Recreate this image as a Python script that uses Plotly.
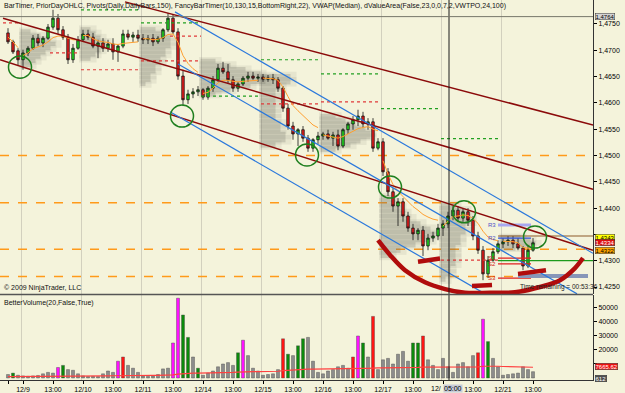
import plotly.graph_objects as go

# ---------------- data ----------------
opens = [1.4733, 1.4716, 1.4699, 1.4682, 1.4695, 1.4704, 1.4723, 1.4714, 1.4723, 1.4744, 1.4761, 1.4739, 1.4725, 1.4682, 1.4704,
         1.4720, 1.4731, 1.4725, 1.4708, 1.4714, 1.4704, 1.4712, 1.4697, 1.4708, 1.4731, 1.4725, 1.4729,
         1.4723, 1.4720, 1.4723, 1.4716, 1.4723, 1.4739, 1.4761, 1.4735, 1.4651, 1.4606, 1.4617, 1.4621,
         1.4625, 1.4611, 1.4628, 1.4644, 1.4666, 1.4659, 1.4644, 1.4628, 1.4636, 1.4647, 1.4651, 1.4647,
         1.4649, 1.4645, 1.4647, 1.4644, 1.4628, 1.4590, 1.4556, 1.4541, 1.4549, 1.4533, 1.4514, 1.4530,
         1.4537, 1.4541, 1.4533, 1.4539, 1.4518, 1.4549, 1.4560, 1.4568, 1.4575, 1.4560, 1.4564, 1.4514,
         1.4526, 1.4469, 1.4431, 1.4404, 1.4412, 1.4385, 1.4362, 1.4351, 1.4358, 1.4328, 1.4343, 1.4347,
         1.4362, 1.4370, 1.4385, 1.4396, 1.4381, 1.4393, 1.4377, 1.4347, 1.4320, 1.4275, 1.4301, 1.4317,
         1.4332, 1.4336, 1.4339, 1.4332, 1.4324, 1.4290, 1.4320]
highs = [1.4742, 1.4720, 1.4704, 1.4701, 1.4708, 1.4729, 1.4731, 1.4727, 1.4750, 1.4777, 1.4769, 1.4746, 1.4731, 1.4712, 1.4727,
         1.4739, 1.4739, 1.4733, 1.4720, 1.4723, 1.4720, 1.4723, 1.4712, 1.4739, 1.4739, 1.4735, 1.4739,
         1.4731, 1.4729, 1.4731, 1.4727, 1.4742, 1.4771, 1.4769, 1.4742, 1.4663, 1.4625, 1.4628, 1.4632,
         1.4628, 1.4632, 1.4651, 1.4674, 1.4678, 1.4674, 1.4651, 1.4640, 1.4651, 1.4659, 1.4659, 1.4655,
         1.4655, 1.4653, 1.4655, 1.4649, 1.4632, 1.4598, 1.4564, 1.4552, 1.4556, 1.4539, 1.4533, 1.4545,
         1.4545, 1.4549, 1.4545, 1.4549, 1.4552, 1.4564, 1.4575, 1.4587, 1.4583, 1.4571, 1.4571, 1.4533,
         1.4533, 1.4476, 1.4438, 1.4419, 1.4419, 1.4393, 1.4370, 1.4362, 1.4366, 1.4351, 1.4355, 1.4370,
         1.4377, 1.4393, 1.4404, 1.4404, 1.4400, 1.4400, 1.4385, 1.4355, 1.4328, 1.4309, 1.4324, 1.4339,
         1.4343, 1.4347, 1.4347, 1.4343, 1.4328, 1.4328, 1.4343]
lows = [1.4712, 1.4693, 1.4670, 1.4663, 1.4689, 1.4701, 1.4708, 1.4706, 1.4720, 1.4739, 1.4731, 1.4720, 1.4674, 1.4676, 1.4701,
        1.4716, 1.4720, 1.4704, 1.4685, 1.4697, 1.4697, 1.4682, 1.4678, 1.4704, 1.4720, 1.4716, 1.4716,
        1.4712, 1.4712, 1.4708, 1.4712, 1.4716, 1.4735, 1.4731, 1.4644, 1.4594, 1.4598, 1.4609, 1.4613,
        1.4606, 1.4606, 1.4621, 1.4640, 1.4655, 1.4636, 1.4621, 1.4621, 1.4632, 1.4640, 1.4644, 1.4640,
        1.4640, 1.4640, 1.4636, 1.4621, 1.4583, 1.4549, 1.4530, 1.4518, 1.4526, 1.4507, 1.4507, 1.4522,
        1.4530, 1.4530, 1.4518, 1.4510, 1.4514, 1.4541, 1.4549, 1.4556, 1.4552, 1.4549, 1.4507, 1.4510,
        1.4461, 1.4423, 1.4393, 1.4366, 1.4374, 1.4355, 1.4339, 1.4339, 1.4309, 1.4320, 1.4336, 1.4339,
        1.4347, 1.4362, 1.4377, 1.4374, 1.4374, 1.4366, 1.4339, 1.4313, 1.4263, 1.4267, 1.4298, 1.4313,
        1.4324, 1.4328, 1.4324, 1.4320, 1.4282, 1.4286, 1.4317]
closes = [1.4716, 1.4697, 1.4682, 1.4695, 1.4704, 1.4723, 1.4714, 1.4723, 1.4744, 1.4761, 1.4739, 1.4725, 1.4682, 1.4704, 1.4720,
          1.4731, 1.4725, 1.4708, 1.4714, 1.4704, 1.4712, 1.4697, 1.4708, 1.4731, 1.4725, 1.4729, 1.4723,
          1.4720, 1.4723, 1.4716, 1.4723, 1.4739, 1.4761, 1.4735, 1.4651, 1.4606, 1.4617, 1.4621, 1.4625,
          1.4611, 1.4628, 1.4644, 1.4666, 1.4659, 1.4644, 1.4628, 1.4636, 1.4647, 1.4651, 1.4647, 1.4649,
          1.4645, 1.4647, 1.4644, 1.4628, 1.4590, 1.4556, 1.4541, 1.4549, 1.4533, 1.4514, 1.4530, 1.4537,
          1.4541, 1.4533, 1.4539, 1.4518, 1.4549, 1.4560, 1.4568, 1.4575, 1.4560, 1.4564, 1.4514, 1.4526,
          1.4469, 1.4431, 1.4404, 1.4412, 1.4385, 1.4362, 1.4351, 1.4358, 1.4328, 1.4343, 1.4347, 1.4362,
          1.4370, 1.4385, 1.4396, 1.4381, 1.4393, 1.4377, 1.4347, 1.4320, 1.4275, 1.4301, 1.4317, 1.4332,
          1.4336, 1.4339, 1.4332, 1.4324, 1.4290, 1.4320, 1.4334]
vwap = [1.4725, 1.4716, 1.4705,
        1.4690, 1.4695, 1.4703, 1.4707, 1.4710, 1.4716, 1.4724, 1.4727, 1.4727, 1.4723, 1.4720, 1.4720,
        1.4728, 1.4728, 1.4722, 1.4718, 1.4716, 1.4715, 1.4712, 1.4711, 1.4713, 1.4714, 1.4715, 1.4716,
        1.4722, 1.4722, 1.4720, 1.4721, 1.4724, 1.4730, 1.4731, 1.4715, 1.4690, 1.4675, 1.4665, 1.4658,
        1.4618, 1.4620, 1.4628, 1.4638, 1.4643, 1.4643, 1.4641, 1.4640, 1.4641, 1.4642, 1.4643, 1.4643,
        1.4647, 1.4647, 1.4646, 1.4643, 1.4630, 1.4612, 1.4595, 1.4585, 1.4576, 1.4566, 1.4558, 1.4553,
        1.4539, 1.4537, 1.4536, 1.4533, 1.4536, 1.4541, 1.4546, 1.4551, 1.4553, 1.4555, 1.4550, 1.4547,
        1.4490, 1.4465, 1.4445, 1.4432, 1.4422, 1.4412, 1.4403, 1.4396, 1.4388, 1.4383, 1.4379, 1.4377,
        1.4366, 1.4375, 1.4384, 1.4385, 1.4387, 1.4386, 1.4380, 1.4371, 1.4356, 1.4345, 1.4340, 1.4338,
        1.4337, 1.4337, 1.4336, 1.4334, 1.4325, 1.4324, 1.4325]
volume = [2500, 3500, 2000, 1500, 1200, 1500, 1800, 3000, 4000, 3500, 7500, 9000, 6000, 5500, 3000,
          1500, 1000, 1200, 1000, 3000, 5000, 4000, 12000, 15000, 9000, 7000, 4000,
          1500, 1200, 1500, 2500, 6500, 7000, 25000, 57000, 45000, 29000, 15000, 7000,
          2000, 3500, 5000, 8000, 10000, 11000, 9000, 18000, 27000, 16000, 7000, 5000,
          2000, 2500, 3000, 6000, 28000, 17000, 16000, 23000, 28000, 29000, 12000, 4000,
          3000, 5000, 6000, 8000, 9000, 7000, 15000, 30000, 25000, 15000, 44000, 6000,
          13000, 14000, 10000, 17000, 19000, 12000, 25000, 25000, 30000, 13000, 9000, 6000,
          14000, 8000, 4000, 10000, 11000, 8000, 16000, 18000, 42000, 26000, 14000, 8000,
          2000, 2500, 3000, 3500, 8000, 6000, 4500]
vol_kind = ["n", "u", "n", "n", "n", "n", "n", "n", "n", "n", "m", "u", "n", "n", "n",
            "n", "n", "n", "n", "n", "n", "n", "m", "d", "n", "n", "n",
            "n", "n", "n", "n", "n", "n", "m", "m", "u", "u", "n", "u",
            "n", "n", "n", "n", "n", "n", "n", "u", "m", "n", "n", "n",
            "n", "n", "n", "n", "d", "u", "n", "u", "u", "n", "n", "n",
            "n", "n", "n", "n", "n", "n", "d", "m", "u", "n", "d", "n",
            "n", "n", "n", "n", "n", "n", "u", "u", "d", "n", "n", "n",
            "n", "n", "n", "n", "n", "n", "n", "d", "m", "u", "n", "n",
            "n", "n", "n", "n", "n", "n", "n"]
vol_ma = [1000, 1000, 1000, 1000, 1000, 1000, 1000, 1100, 1100, 1100, 1200, 1300, 1300, 1400, 1400,
          1400, 1400, 1400, 1500, 1500, 1500, 1600, 1700, 1800, 1800, 1900, 1900,
          1900, 1900, 1900, 1900, 2000, 2000, 2300, 2800, 3200, 3400, 3500, 3500,
          3500, 3500, 3600, 3700, 3800, 3900, 4000, 4200, 4500, 4600, 4600, 4600,
          4600, 4600, 4700, 4800, 5300, 5600, 5800, 6000, 6200, 6400, 6400, 6400,
          6300, 6300, 6300, 6300, 6300, 6300, 6400, 6600, 6800, 6900, 7200, 7200,
          7200, 7200, 7200, 7300, 7400, 7400, 7500, 7600, 7800, 7800, 7800, 7800,
          7800, 7800, 7700, 7700, 7700, 7700, 7800, 8000, 8400, 8500, 8500, 8400,
          8200, 8100, 8000, 7900, 7800, 7700, 7665]

day_starts = [3, 15, 27, 39, 51, 63, 75, 87, 99]
tick_pos = [0, 3, 9, 15, 21, 27, 33, 39, 45, 51, 57, 63, 69, 75, 81, 87, 93, 99, 105]
# the 12/18 label is mostly covered by the crosshair time box; its visible part is drawn separately
tick_text = ["", "12/9", "13:00", "12/10", "13:00", "12/11", "13:00", "12/14", "13:00", "12/15", "13:00",
             "12/16", "13:00", "12/17", "13:00", "", "13:00", "12/21", "13:00"]
price_ticks = [1.4250, 1.4300, 1.4350, 1.4400, 1.4450, 1.4500, 1.4550, 1.4600, 1.4650, 1.4700, 1.4750]
# 1,4350 is hidden behind the price markers in the original
price_tick_text = ["1,4250", "1,4300", "", "1,4400", "1,4450", "1,4500", "1,4550", "1,4600", "1,4650", "1,4700", "1,4750"]
vol_ticks = [10000, 20000, 30000, 40000, 50000]
vol_tick_text = ["", "20000", "30000", "40000", "50000"]

# value area profiles (per day)
va_start = [3, 15, 27, 39, 51, 63, 75, 87, 99]
va_step = [0.0008, 0.0008, 0.0008, 0.0008, 0.0010, 0.0008, 0.0010, 0.0010, 0.0006]
va_prices = [
    [1.4736, 1.4728, 1.4720, 1.4712, 1.4704, 1.4696, 1.4688, 1.4680, 1.4672],
    [1.4740, 1.4732, 1.4724, 1.4716, 1.4708, 1.4700, 1.4692, 1.4684],
    [1.4740, 1.4732, 1.4724, 1.4716, 1.4708, 1.4700, 1.4692, 1.4684, 1.4676, 1.4668, 1.4660, 1.4652, 1.4644, 1.4636],
    [1.4680, 1.4672, 1.4664, 1.4656, 1.4648, 1.4640, 1.4632, 1.4624, 1.4616],
    [1.4650, 1.4640, 1.4630, 1.4620, 1.4610, 1.4600, 1.4590, 1.4580, 1.4570, 1.4560, 1.4550, 1.4540, 1.4530, 1.4520],
    [1.4575, 1.4567, 1.4559, 1.4551, 1.4543, 1.4535, 1.4527, 1.4519, 1.4511],
    [1.4420, 1.4410, 1.4400, 1.4390, 1.4380, 1.4370, 1.4360, 1.4350, 1.4340, 1.4330, 1.4320, 1.4310],
    [1.4405, 1.4395, 1.4385, 1.4375, 1.4365, 1.4355, 1.4345, 1.4335, 1.4325, 1.4315, 1.4305, 1.4295, 1.4285, 1.4275, 1.4265],
    [1.4346, 1.4340, 1.4334, 1.4328, 1.4322],
]
va_widths = [
    [2, 4, 6, 7, 6, 5, 4, 3, 2],
    [2, 3, 4, 5, 5, 4, 3, 2],
    [3, 5, 6, 6, 6, 5, 5, 4, 4, 3, 3, 2, 2, 1],
    [3, 6, 9, 12, 14, 13, 10, 6, 3],
    [6, 6, 4, 3, 3, 3, 3, 3, 3, 4, 4, 5, 5, 3],
    [3, 5, 7, 9, 10, 10, 8, 6, 3],
    [2, 3, 4, 5, 6, 8, 10, 11, 10, 7, 4, 2],
    [3, 5, 6, 6, 5, 5, 4, 4, 3, 3, 3, 3, 2, 2, 1],
    [4, 6, 7, 6, 3],
]

# prior-day / pivot dotted segments
piv_green_x0 = [14.6, 26.6, 38.6, 50.6, 62.6, 74.6, 86.6]
piv_green_x1 = [26.6, 38.6, 50.6, 62.6, 74.6, 86.6, 98.6]
piv_green_y = [1.4777, 1.4752, 1.4613, 1.4682, 1.4655, 1.4589, 1.4532]
piv_red_x0 = [-1.0, 8.4, 14.6, 26.6, 32.4, 50.6, 62.6, 86.6]
piv_red_x1 = [2.6, 14.4, 26.6, 38.6, 38.6, 62.6, 74.6, 98.6]
piv_red_y = [1.4752, 1.4695, 1.4663, 1.4680, 1.4727, 1.4598, 1.4602, 1.4301]

# 12/21 pivots
piv21_names = ["R3", "R2", "S1", "S2", "S3"]
piv21_levels = [1.4368, 1.4343, 1.4305, 1.4294, 1.4267]
piv21_colors = ["#A8A8F0", "#3355DD", "#E02020", "#E02020", "#E02020"]

orange_levels = [1.4500, 1.4410, 1.4322, 1.4270]

# drawn trend lines: (x0, y0, x1, y1)
red_lines = [(23.4, 1.4792, 117.0, 1.4558),
             (-1.0, 1.4761, 117.0, 1.4436),
             (-1.6, 1.4682, 117.0, 1.4320)]
blue_lines = [(33.4, 1.4773, 117.0, 1.4314),
              (34.0, 1.4674, 113.8, 1.4237),
              (32.4, 1.4583, 95.4, 1.4237)]

# green circles (centre x, centre price)
circ_x = [2.4, 34.8, 59.8, 76.4, 91.2, 105.4]
circ_y = [1.4668, 1.4575, 1.4501, 1.4440, 1.4393, 1.4345]
circ_rx = 2.3
circ_ry = 0.0021

# red freehand drawing
curve_x = [74.0, 76.4, 79.4, 83.4, 87.4, 91.4, 96.4, 101.4, 106.4, 110.4, 113.4, 115.0]
curve_y = [1.4339, 1.4311, 1.4282, 1.4259, 1.4246, 1.4239, 1.4239, 1.4240, 1.4250, 1.4263, 1.4286, 1.4305]
strokes = [([82.0, 86.4], [1.4298, 1.4304]),
           ([92.8, 96.8], [1.4252, 1.4254]),
           ([102.0, 107.6], [1.4275, 1.4282])]

BG = "#F4F3DB"
vol_colors = {"n": "#8C8C8C", "u": "#0B8A0B", "d": "#FF1414", "m": "#FF10FF"}

# ---------------- figure ----------------
fig = go.Figure()
xs = list(range(len(opens)))

# value area shading (soft halo + core)
for s, pr, wd, th in zip(va_start, va_prices, va_widths, va_step):
    fig.add_trace(go.Bar(orientation="h", y=pr, x=[w + 1.5 for w in wd], base=s - 0.8, width=th * 1.8,
                         marker=dict(color="rgba(110,110,100,0.10)", line=dict(width=0)),
                         xaxis="x", yaxis="y", hoverinfo="skip"))
    fig.add_trace(go.Bar(orientation="h", y=pr, x=wd, base=s - 0.5, width=th,
                         marker=dict(color="rgba(110,110,100,0.25)", line=dict(width=0)),
                         xaxis="x", yaxis="y", hoverinfo="skip"))

# pivot dotted lines
gx, gy = [], []
for a, b, v in zip(piv_green_x0, piv_green_x1, piv_green_y):
    gx += [a, b, None]; gy += [v, v, None]
fig.add_trace(go.Scatter(x=gx, y=gy, mode="lines", line=dict(color="#22A022", width=1.2, dash="dot"),
                         xaxis="x", yaxis="y", hoverinfo="skip"))
rx, ry = [], []
for a, b, v in zip(piv_red_x0, piv_red_x1, piv_red_y):
    rx += [a, b, None]; ry += [v, v, None]
fig.add_trace(go.Scatter(x=rx, y=ry, mode="lines", line=dict(color="#E03A3A", width=1.2, dash="dot"),
                         xaxis="x", yaxis="y", hoverinfo="skip"))

# 12/21 pivots
for nm, lv, cl in zip(piv21_names, piv21_levels, piv21_colors):
    fig.add_trace(go.Scatter(x=[98.0, 104.6], y=[lv, lv], mode="lines",
                             line=dict(color=cl, width=3 if nm == "R3" else 1.2),
                             xaxis="x", yaxis="y", hoverinfo="skip"))
fig.add_trace(go.Scatter(x=[98.0, 117.0], y=[1.4300, 1.4300], mode="lines", line=dict(color="#1C9A1C", width=1.2),
                         xaxis="x", yaxis="y", hoverinfo="skip"))
fig.add_trace(go.Scatter(x=[98.0, 117.0], y=[1.4347, 1.4347], mode="lines", line=dict(color="#8B5A2B", width=1.2),
                         xaxis="x", yaxis="y", hoverinfo="skip"))
fig.add_trace(go.Scatter(x=[102.0, 116.0], y=[1.4271, 1.4271], mode="lines", line=dict(color="#8796B8", width=4),
                         xaxis="x", yaxis="y", hoverinfo="skip"))

# VWAP (resets each day)
vx, vy = [], []
for i, v in enumerate(vwap):
    if i in day_starts:
        vx.append(None); vy.append(None)
    vx.append(i); vy.append(v)
fig.add_trace(go.Scatter(x=vx, y=vy, mode="lines", line=dict(color="#FFA030", width=1),
                         xaxis="x", yaxis="y", hoverinfo="skip"))

# candles
fig.add_trace(go.Candlestick(x=xs, open=opens, high=highs, low=lows, close=closes,
                             increasing=dict(fillcolor="#22DD22", line=dict(color="#111111", width=0.8)),
                             decreasing=dict(fillcolor="#EE1C1C", line=dict(color="#111111", width=0.8)),
                             whiskerwidth=0, xaxis="x", yaxis="y", hoverinfo="skip"))

# trend lines
for x0, y0, x1, y1 in red_lines:
    fig.add_trace(go.Scatter(x=[x0, x1], y=[y0, y1], mode="lines", line=dict(color="#8B0A0A", width=1.5),
                             xaxis="x", yaxis="y", hoverinfo="skip"))
for x0, y0, x1, y1 in blue_lines:
    fig.add_trace(go.Scatter(x=[x0, x1], y=[y0, y1], mode="lines", line=dict(color="#2A78DC", width=1.2),
                             xaxis="x", yaxis="y", hoverinfo="skip"))

# freehand drawing
fig.add_trace(go.Scatter(x=curve_x, y=curve_y, mode="lines", line=dict(color="#B00C0C", width=4.5, shape="spline"),
                         xaxis="x", yaxis="y", hoverinfo="skip"))
for sx, sy in strokes:
    fig.add_trace(go.Scatter(x=sx, y=sy, mode="lines", line=dict(color="#B00C0C", width=4.5),
                             xaxis="x", yaxis="y", hoverinfo="skip"))

# volume
fig.add_trace(go.Bar(x=xs, y=volume, width=0.6, marker=dict(color=[vol_colors[k] for k in vol_kind],
                                                            line=dict(color="#444444", width=0.4)),
                     xaxis="x", yaxis="y2", hoverinfo="skip"))
fig.add_trace(go.Scatter(x=xs, y=vol_ma, mode="lines", line=dict(color="#FF4040", width=1.2),
                         xaxis="x", yaxis="y2", hoverinfo="skip"))

shapes = []
for d in day_starts:
    shapes.append(dict(type="line", xref="x", yref="paper", x0=d - 0.3, x1=d - 0.3, y0=0, y1=1,
                       line=dict(color="#D2D0BE", width=1), layer="below"))
for lv in orange_levels:
    shapes.append(dict(type="line", xref="paper", yref="y", x0=0, x1=1, y0=lv, y1=lv,
                       line=dict(color="#FF9A1A", width=1.5, dash="dash"), layer="below"))
for cx, cy in zip(circ_x, circ_y):
    shapes.append(dict(type="circle", xref="x", yref="y", x0=cx - circ_rx, x1=cx + circ_rx,
                       y0=cy - circ_ry, y1=cy + circ_ry, line=dict(color="#1E7F1E", width=1.5)))
# crosshair
shapes.append(dict(type="line", xref="x", yref="paper", x0=88.2, x1=88.2, y0=0, y1=1,
                   line=dict(color="#1A1A1A", width=1)))
shapes.append(dict(type="line", xref="paper", yref="y", x0=0, x1=1, y0=1.4764, y1=1.4764,
                   line=dict(color="#77776A", width=1)))
# panel separator
shapes.append(dict(type="line", xref="paper", yref="paper", x0=0, x1=1, y0=0.2250, y1=0.2250,
                   line=dict(color="#555555", width=1.5)))

ann = []
ann.append(dict(xref="paper", yref="paper", x=0.004, y=0.984, xanchor="left", yanchor="middle", showarrow=False,
                text="BarTimer, PriorDayOHLC, Pivots(Daily,DailyBars,150), FancyBarTimer(10,130,15,BottomRight,22), VWAP(Median), dValueArea(False,23,0,0,7,2,VWTPO,24,100)",
                font=dict(size=7, color="#111111")))
ann.append(dict(xref="paper", yref="paper", x=0.004, y=0.242, xanchor="left", yanchor="middle", showarrow=False,
                text="© 2009 NinjaTrader, LLC", font=dict(size=7, color="#111111")))
ann.append(dict(xref="paper", yref="paper", x=0.004, y=0.2026, xanchor="left", yanchor="middle", showarrow=False,
                text="BetterVolume(20,False,True)", font=dict(size=7, color="#111111")))
ann.append(dict(xref="x", yref="y", x=102.0, y=1.4250, xanchor="left", yanchor="middle", showarrow=False,
                text="Time remaining = 00:53:36", font=dict(size=6.5, color="#222222")))
for nm, lv in zip(piv21_names, piv21_levels):
    ann.append(dict(xref="x", yref="y", x=97.9, y=lv, xanchor="right", yanchor="middle", showarrow=False,
                    text=nm, font=dict(size=6, color="#5050C8" if nm.startswith("R") else "#D02020")))
# right axis value boxes
boxes = [("y", 1.4764, "1,4764", "#D4D4D4", "#000000", 0),
         ("y", 1.4343, "1,4343", "#FFFF00", "#000000", 1),
         ("y", 1.4334, "1,4334", "#DD1111", "#FFFFFF", 0),
         ("y", 1.4322, "1,4322", "#FFA500", "#000000", -1),
         ("y2", 7665, "7665.62", "#EE1111", "#FFFFFF", 1),
         ("y2", 612, "612", "#505050", "#FFFFFF", -1)]
for yr, yv, tx, bg, fg, sh in boxes:
    ann.append(dict(xref="paper", yref=yr, x=1, y=yv, xanchor="left", yanchor="middle", xshift=2, yshift=sh,
                    showarrow=False, text=tx, bgcolor=bg, bordercolor="#333333", borderwidth=0.5, borderpad=0,
                    font=dict(size=6, color=fg)))
# visible part of the 12/18 date label, then the crosshair time box
ann.append(dict(xref="x", yref="paper", x=86.8, y=0, xanchor="right", yanchor="top", yshift=-4, showarrow=False,
                text="12/", borderpad=0, font=dict(size=7, color="#000000")))
ann.append(dict(xref="x", yref="paper", x=86.9, y=0, xanchor="left", yanchor="top", yshift=-4, showarrow=False,
                text="05:00", bgcolor="#C8CCD8", borderpad=0, font=dict(size=7, color="#000000")))

fig.update_layout(
    width=625, height=393, margin=dict(l=0, r=32, t=0, b=13),
    paper_bgcolor=BG, plot_bgcolor=BG, showlegend=False, barmode="overlay",
    font=dict(family="Liberation Sans, Arial, sans-serif", size=7, color="#000000"),
    shapes=shapes, annotations=ann,
    xaxis=dict(domain=[0, 1], range=[-1.6, 117], anchor="y2", tickvals=tick_pos, ticktext=tick_text,
               ticks="outside", ticklen=3, tickcolor="#000000", showline=True, linecolor="#333333",
               showgrid=False, zeroline=False, rangeslider=dict(visible=False), tickfont=dict(size=7),
               automargin=False),
    yaxis=dict(domain=[0.2263, 1], range=[1.42367, 1.47956], side="right", anchor="x",
               tickvals=price_ticks, ticktext=price_tick_text, ticks="outside", ticklen=3, tickcolor="#000000",
               showline=True, linecolor="#333333", showgrid=False, zeroline=False, tickfont=dict(size=7),
               automargin=False),
    yaxis2=dict(domain=[0, 0.2237], range=[-1429, 59286], side="right", anchor="x",
                tickvals=vol_ticks, ticktext=vol_tick_text, ticks="outside", ticklen=3,
                tickcolor="#000000", showline=True, linecolor="#333333", showgrid=False, zeroline=False,
                tickfont=dict(size=7), automargin=False),
)

fig.write_html("out.html")
